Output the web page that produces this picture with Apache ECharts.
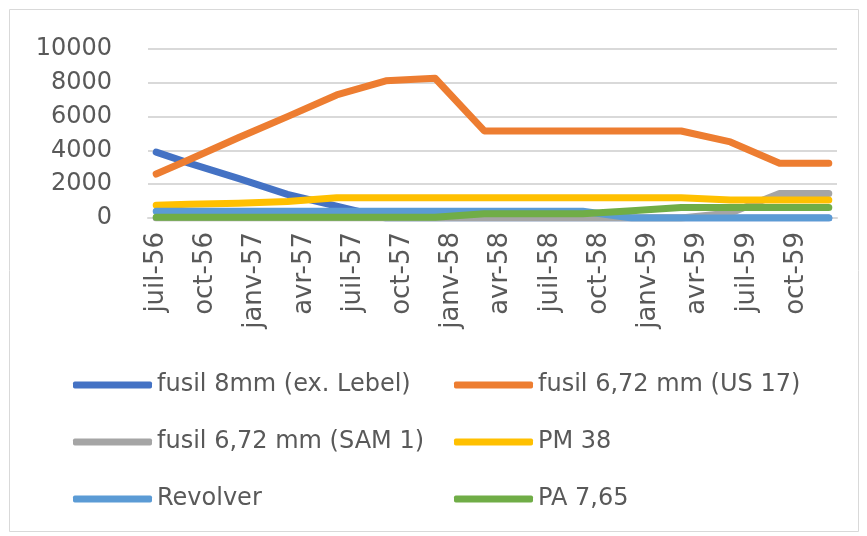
<!DOCTYPE html>
<html>
<head>
<meta charset="utf-8">
<script src="https://cdn.jsdelivr.net/npm/echarts@6/dist/echarts.min.js"></script>
<style>
  html, body { margin: 0; padding: 0; background: #fff; }
  #chart { width: 867px; height: 536px; }
</style>
</head>
<body>
<div id="chart"></div>
<script>
// mois affichés sur l'axe (un par catégorie)
var months = [
    'juil-56', 'août-56', 'sept-56', 'oct-56', 'nov-56', 'déc-56',
    'janv-57', 'févr-57', 'mars-57', 'avr-57', 'mai-57', 'juin-57',
    'juil-57', 'août-57', 'sept-57', 'oct-57', 'nov-57', 'déc-57',
    'janv-58', 'févr-58', 'mars-58', 'avr-58', 'mai-58', 'juin-58',
    'juil-58', 'août-58', 'sept-58', 'oct-58', 'nov-58', 'déc-58',
    'janv-59', 'févr-59', 'mars-59', 'avr-59', 'mai-59', 'juin-59',
    'juil-59', 'août-59', 'sept-59', 'oct-59', 'nov-59', 'déc-59'
];

// dates des relevés
var pointMonths = [
    'juil-56', 'sept-56', 'déc-56', 'mars-57', 'juin-57', 'sept-57', 'déc-57',
    'mars-58', 'juin-58', 'sept-58', 'déc-58', 'mars-59', 'juin-59', 'sept-59', 'déc-59'
];

var fusil8 = [3900, 3250, 2350, 1400, 700, 0, 0, 0, 0, 0, 0, 0, 0, 0, 0];
var fusilUS17 = [2600, 3450, 4750, 6000, 7280, 8120, 8270, 5150, 5150, 5150, 5150, 5150, 4500, 3240, 3240];
var fusilSAM1 = [0, 0, 0, 0, 0, 0, 0, 0, 0, 0, 0, 0, 300, 1450, 1450];
var pm38 = [760, 810, 880, 970, 1200, 1200, 1200, 1200, 1200, 1200, 1200, 1200, 1060, 1060, 1060];
var revolver = [400, 400, 400, 400, 400, 400, 400, 400, 400, 400, 0, 0, 0, 0, 0];
var pa765 = [50, 50, 50, 50, 50, 50, 50, 250, 250, 250, 430, 620, 620, 620, 620];

var yTicks = [0, 2000, 4000, 6000, 8000, 10000];

var seriesNames = ['fusil 8mm (ex. Lebel)', 'fusil 6,72 mm (US 17)', 'fusil 6,72 mm (SAM 1)', 'PM 38', 'Revolver', 'PA 7,65'];
var seriesValues = [fusil8, fusilUS17, fusilSAM1, pm38, revolver, pa765];
var colors = ['#4472C4', '#ED7D31', '#A5A5A5', '#FFC000', '#5B9BD5', '#70AD47'];

var font = 'DejaVu Sans';
var textColor = '#595959';

var myChart = echarts.init(document.getElementById('chart'));

function toPoints(values) {
    return values.map(function(v, i) {
        return [pointMonths[i], v];
    });
}

var series = seriesNames.map(function(name, i) {
    return {
        name: name,
        type: 'line',
        data: toPoints(seriesValues[i]),
        connectNulls: true,
        showSymbol: false,
        symbol: 'none',
        color: colors[i],
        lineStyle: { width: 7, color: colors[i], cap: 'round', join: 'round' },
        animation: false
    };
});

var legendCommon = {
    orient: 'vertical',
    top: 368,
    itemWidth: 79,
    itemHeight: 7,
    itemGap: 33,
    icon: 'roundRect',
    textStyle: { fontFamily: font, fontSize: 24, color: textColor }
};

var option = {
    animation: false,
    grid: { left: 148, right: 30, top: 49, bottom: 318 },
    legend: [
        Object.assign({ left: 68, data: [seriesNames[0], seriesNames[2], seriesNames[4]] }, legendCommon),
        Object.assign({ left: 449, data: [seriesNames[1], seriesNames[3], seriesNames[5]] }, legendCommon)
    ],
    xAxis: {
        type: 'category',
        data: months,
        boundaryGap: true,
        axisLine: { lineStyle: { color: '#d9d9d9', width: 2 } },
        axisTick: { interval: 2, length: 10, lineStyle: { color: '#d9d9d9', width: 2 } },
        axisLabel: {
            interval: 2,
            rotate: 90,
            margin: 14,
            fontFamily: font,
            fontSize: 26,
            color: textColor
        },
        splitLine: { show: false }
    },
    yAxis: {
        type: 'value',
        min: yTicks[0],
        max: yTicks[yTicks.length - 1],
        interval: 2000,
        axisLine: { show: false },
        axisTick: { show: false },
        axisLabel: {
            margin: 36,
            fontFamily: font,
            fontSize: 24,
            color: textColor,
            formatter: function(v) { return String(v); }
        },
        splitLine: { lineStyle: { color: '#d9d9d9', width: 2 } }
    },
    graphic: [{
        type: 'rect',
        shape: { x: 9.5, y: 9.5, width: 849, height: 522 },
        style: { fill: 'none', stroke: '#d9d9d9', lineWidth: 1 },
        silent: true
    }],
    series: series
};

myChart.setOption(option);
</script>
</body>
</html>
